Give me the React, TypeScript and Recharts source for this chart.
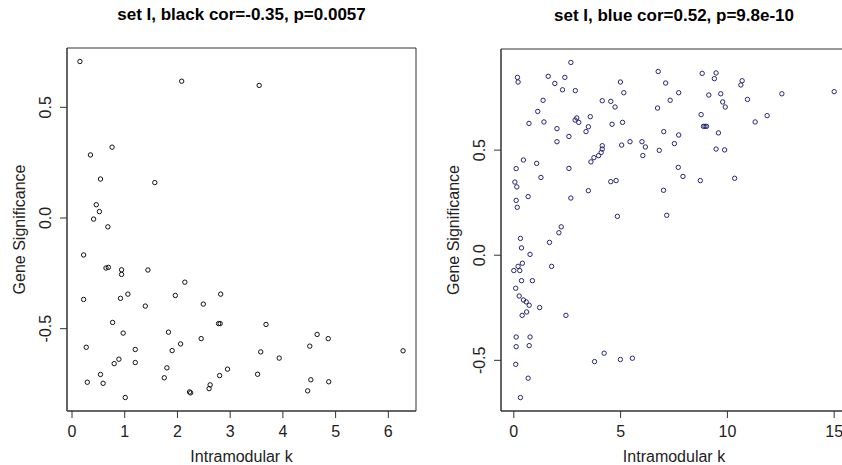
import React from "react";
import { ScatterChart, Scatter, XAxis, YAxis, ReferenceArea } from "recharts";

// ---- Left panel: set I, black ----
const blackK = [
  0.15, 2.08, 0.76, 0.35, 0.54, 1.57, 0.46, 0.52, 0.41, 0.68, 3.55, 0.22, 0.645, 0.69, 0.94, 0.94,
  1.44, 2.14, 0.22, 0.92, 1.06, 1.39, 1.96, 2.49, 2.82, 0.77, 2.78, 2.81, 0.97, 1.83, 2.45, 0.27,
  2.06, 1.2, 1.9, 0.8, 0.89, 1.2, 1.8, 2.95, 0.54, 1.75, 2.8, 0.29, 0.59, 2.62, 2.6, 2.23, 2.25,
  1.01, 3.68, 4.65, 4.86, 4.51, 3.58, 6.28, 3.93, 3.52, 4.53, 4.87, 4.47,
];
const blackGS = [
  0.707, 0.618, 0.32, 0.285, 0.176, 0.16, 0.06, 0.029, -0.005, -0.04, 0.599, -0.167, -0.226, -0.223,
  -0.234, -0.255, -0.235, -0.29, -0.368, -0.363, -0.344, -0.398, -0.35, -0.389, -0.344, -0.472,
  -0.477, -0.477, -0.52, -0.516, -0.545, -0.584, -0.569, -0.594, -0.599, -0.658, -0.638, -0.653,
  -0.677, -0.683, -0.707, -0.722, -0.712, -0.742, -0.747, -0.754, -0.771, -0.786, -0.79, -0.811,
  -0.481, -0.526, -0.545, -0.579, -0.605, -0.6, -0.633, -0.706, -0.731, -0.74, -0.781,
];

// ---- Right panel: set I, blue ----
const blueK = [
  2.67, 0.17, 0.2, 1.61, 1.92, 2.39, 2.28, 2.88, 1.37, 1.12, 0.71, 1.41, 2.87, 2.95, 3.04, 3.58, 3.49,
  3.38, 2.02, 2.58, 2.02, 0.45, 1.07, 0.11, 2.58, 1.27, 0.05, 0.14, 3.49, 0.67, 0.11, 0.16, 2.67, 2.22,
  3.61, 3.75, 3.97,
  6.76, 4.99, 7.11, 8.82, 9.47, 9.39, 5.15, 7.72, 7.32, 6.73, 9.13, 9.69, 9.78, 9.9, 4.14, 4.54, 4.74,
  8.77, 4.6, 5.09, 8.88, 8.95, 9.02, 7.02, 7.72, 9.58, 4.14, 4.14, 4.09, 5.05, 5.44, 6.0, 6.16, 6.04,
  6.81, 7.52, 9.47, 9.87, 7.7, 7.92, 4.54, 4.79, 8.73, 7.01, 4.85, 7.16,
  10.69, 10.63, 12.55, 15.0, 10.94, 11.86, 11.3, 10.34,
  2.11, 0.31, 1.67, 0.36, 0.76, 0.4, 0.2, 0.0, 0.28, 1.77, 0.36, 0.87, 0.09, 0.25, 0.45, 0.58, 0.72,
  1.21, 0.6, 0.39, 2.44, 0.11, 0.76, 0.11, 0.72, 0.09, 3.78, 0.67, 0.31,
  4.23, 4.99, 5.55,
];
const blueGS = [
  0.917, 0.846, 0.824, 0.851, 0.817, 0.846, 0.787, 0.783, 0.737, 0.684, 0.627, 0.634, 0.643, 0.653,
  0.632, 0.659, 0.611, 0.588, 0.602, 0.565, 0.54, 0.453, 0.437, 0.412, 0.413, 0.37, 0.348, 0.325,
  0.307, 0.279, 0.261, 0.228, 0.272, 0.135, 0.444, 0.464, 0.474,
  0.874, 0.824, 0.819, 0.865, 0.867, 0.84, 0.773, 0.773, 0.737, 0.7, 0.762, 0.768, 0.729, 0.705,
  0.735, 0.732, 0.705, 0.669, 0.623, 0.632, 0.613, 0.613, 0.613, 0.588, 0.572, 0.582, 0.521, 0.505,
  0.489, 0.524, 0.54, 0.54, 0.515, 0.474, 0.499, 0.531, 0.505, 0.501, 0.418, 0.375, 0.35, 0.355,
  0.355, 0.309, 0.185, 0.19,
  0.83, 0.81, 0.768, 0.778, 0.741, 0.664, 0.634, 0.366,
  0.107, 0.08, 0.061, 0.035, 0.004, -0.038, -0.053, -0.073, -0.073, -0.053, -0.121, -0.121, -0.157,
  -0.194, -0.213, -0.222, -0.238, -0.249, -0.27, -0.286, -0.286, -0.389, -0.389, -0.435, -0.43,
  -0.519, -0.506, -0.585, -0.677,
  -0.466, -0.496, -0.49,
];

const blackXTicks = [0, 1, 2, 3, 4, 5, 6];
const blueXTicks = [0, 5, 10, 15];
const yTicks = [-0.5, 0, 0.5];

const blackTitle = "set I, black cor=-0.35, p=0.0057";
const blueTitle = "set I, blue cor=0.52, p=9.8e-10";
const xLabel = "Intramodular k";
const yLabel = "Gene Significance";

const blackData = blackK.map((k, i) => ({ k, gs: blackGS[i] }));
const blueData = blueK.map((k, i) => ({ k, gs: blueGS[i] }));

const FONT = '"Liberation Sans", Arial, sans-serif';
const TEXT = "#222";
const LINE = "#333";

const YTick = (props: any) => {
  const { x, y, payload } = props;
  return (
    <text
      transform={`translate(${x - 7.5},${y}) rotate(-90)`}
      textAnchor="middle"
      fontSize={16}
      fill={TEXT}
      fontFamily={FONT}
    >
      {Number(payload.value).toFixed(1)}
    </text>
  );
};

const XTick = (props: any) => {
  const { x, y, payload } = props;
  return (
    <text x={x} y={y + 17} textAnchor="middle" fontSize={16} fill={TEXT} fontFamily={FONT}>
      {String(payload.value)}
    </text>
  );
};

const makeDot = (color: string) => (props: any) => (
  <circle cx={props.cx} cy={props.cy} r={2.2} fill="none" stroke={color} strokeWidth={1} />
);

type PanelProps = {
  data: { k: number; gs: number }[];
  xDomain: [number, number];
  yDomain: [number, number];
  xTicks: number[];
  title: string;
  color: string;
  left: number;
  yAxisWidth: number;
  top: number;
  right: number;
  yLabelDx: number;
};

const Panel = (p: PanelProps) => (
  <div style={{ position: "absolute", left: p.left, top: 0 }}>
    <ScatterChart
      width={430}
      height={465}
      margin={{ top: p.top, right: p.right, bottom: 0, left: 0 }}
    >
      <XAxis
        type="number"
        dataKey="k"
        domain={p.xDomain}
        ticks={p.xTicks}
        allowDataOverflow
        height={54}
        tickSize={7}
        tickMargin={2}
        tick={<XTick />}
        axisLine={{ stroke: LINE }}
        tickLine={{ stroke: LINE }}
        label={{ value: xLabel, position: "center", dy: 18, fontSize: 16, fill: TEXT, fontFamily: FONT }}
      />
      <YAxis
        type="number"
        dataKey="gs"
        domain={p.yDomain}
        ticks={yTicks}
        allowDataOverflow
        width={p.yAxisWidth}
        tickSize={7}
        tickMargin={2}
        tick={<YTick />}
        axisLine={{ stroke: LINE }}
        tickLine={{ stroke: LINE }}
        label={{
          value: yLabel,
          position: "center",
          angle: -90,
          dx: p.yLabelDx,
          fontSize: 16,
          fill: TEXT,
          fontFamily: FONT,
        }}
      />
      <ReferenceArea
        x1={p.xDomain[0]}
        x2={p.xDomain[1]}
        y1={p.yDomain[0]}
        y2={p.yDomain[1]}
        ifOverflow="visible"
        fill="none"
        fillOpacity={0}
        stroke={LINE}
        strokeWidth={1}
        label={{
          value: p.title,
          position: "top",
          offset: 28,
          fontSize: 17,
          fontWeight: "bold",
          fill: "#000",
          fontFamily: FONT,
        }}
      />
      <Scatter data={p.data} isAnimationActive={false} shape={makeDot(p.color)} />
    </ScatterChart>
  </div>
);

export default function App() {
  return (
    <div
      style={{
        position: "fixed",
        left: 0,
        top: 0,
        width: 842,
        height: 465,
        overflow: "hidden",
        background: "#fff",
        fontFamily: FONT,
      }}
    >
      <Panel
        data={blackData}
        xDomain={[-0.095, 6.525]}
        yDomain={[-0.872, 0.768]}
        xTicks={blackXTicks}
        title={blackTitle}
        color="#111"
        left={0}
        yAxisWidth={67}
        top={48}
        right={14}
        yLabelDx={-14.5}
      />
      <Panel
        data={blueData}
        xDomain={[-0.6, 15.6]}
        yDomain={[-0.741, 0.981]}
        xTicks={blueXTicks}
        title={blueTitle}
        color="#26266e"
        left={430}
        yAxisWidth={71}
        top={49}
        right={13}
        yLabelDx={-12.5}
      />
    </div>
  );
}
